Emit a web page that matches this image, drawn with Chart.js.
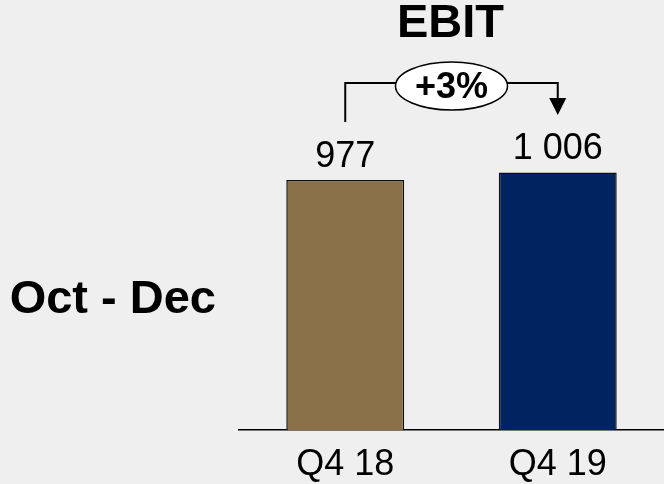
<!DOCTYPE html>
<html>
<head>
<meta charset="utf-8">
<script src="https://cdn.jsdelivr.net/npm/chart.js@4/dist/chart.umd.min.js"></script>
<style>
  html, body { margin: 0; padding: 0; background: #efefef; }
  #wrap { width: 664px; height: 484px; }
</style>
</head>
<body>
<div id="wrap"><canvas id="chart" width="664" height="484"></canvas></div>
<script>
// Datos del gráfico
const periods = ["Q4 18", "Q4 19"];
const ebitValues = [977, 1006];
const valueLabels = ["977", "1 006"];
const barColors = ["#8a714a", "#00245f"];
const chartTitle = "EBIT";
const changeLabel = "+3%";
const rowLabel = "Oct - Dec";

const FONT = "'Liberation Sans', Arial, sans-serif";

// Anotaciones: título, etiquetas, flecha con elipse
const annotations = {
  id: "annotations",
  afterDraw(chart) {
    const { ctx, chartArea } = chart;
    const bars = chart.getDatasetMeta(0).data;
    ctx.save();
    ctx.fillStyle = "#000";
    ctx.textAlign = "center";
    ctx.textBaseline = "alphabetic";

    // valores encima de las barras
    ctx.font = "36px " + FONT;
    bars.forEach((bar, i) => {
      ctx.fillText(valueLabels[i], bar.x, bar.y - 13);
    });

    // título
    const midX = (chartArea.left + chartArea.right) / 2;
    ctx.font = "bold 47px " + FONT;
    ctx.fillText(chartTitle, midX - 1, 37);

    // etiqueta de fila
    ctx.font = "bold 47px " + FONT;
    ctx.textAlign = "right";
    ctx.fillText(rowLabel, 216, 313);

    // flecha
    const x1 = bars[0].x, x2 = bars[1].x;
    const lineY = 83;
    const ex = (x1 + x2) / 2, ey = 86, rx = 56, ry = 24;
    ctx.strokeStyle = "#000";
    ctx.lineWidth = 2;
    ctx.beginPath();
    ctx.moveTo(x1, 122);
    ctx.lineTo(x1, lineY);
    ctx.lineTo(ex - rx + 2, lineY);
    ctx.moveTo(ex + rx - 2, lineY);
    ctx.lineTo(x2, lineY);
    ctx.lineTo(x2, 100);
    ctx.stroke();
    ctx.beginPath();
    ctx.moveTo(x2 - 8.5, 98);
    ctx.lineTo(x2 + 8.5, 98);
    ctx.lineTo(x2, 115);
    ctx.closePath();
    ctx.fill();

    ctx.beginPath();
    ctx.ellipse(ex, ey, rx, ry, 0, 0, Math.PI * 2);
    ctx.fillStyle = "#fff";
    ctx.fill();
    ctx.lineWidth = 1.5;
    ctx.stroke();

    ctx.fillStyle = "#000";
    ctx.textAlign = "center";
    ctx.textBaseline = "alphabetic";
    ctx.font = "bold 36px " + FONT;
    ctx.fillText(changeLabel, ex, 98);
    ctx.restore();
  }
};

const ctx = document.getElementById("chart").getContext("2d");
new Chart(ctx, {
  type: "bar",
  data: {
    labels: periods,
    datasets: [
      {
        data: ebitValues,
        backgroundColor: barColors,
        borderColor: "#111",
        borderWidth: 1.5,
        barPercentage: 0.555,
        categoryPercentage: 1.0,
      },
    ],
  },
  options: {
    responsive: false,
    animation: false,
    layout: { padding: { left: 239, right: 0, top: 46, bottom: 0 } },
    plugins: {
      legend: { display: false },
      title: { display: false },
      tooltip: { enabled: false },
    },
    scales: {
      x: {
        grid: { display: false, drawTicks: false },
        border: { display: true, color: "#000", width: 1.5 },
        ticks: {
          color: "#000",
          padding: 13,
          font: { family: FONT, size: 36 },
        },
        afterFit(scale) {
          scale.height = 54;
        },
      },
      y: {
        display: false,
        min: 0,
        max: 1500,
      },
    },
  },
  plugins: [annotations],
});
</script>
</body>
</html>
